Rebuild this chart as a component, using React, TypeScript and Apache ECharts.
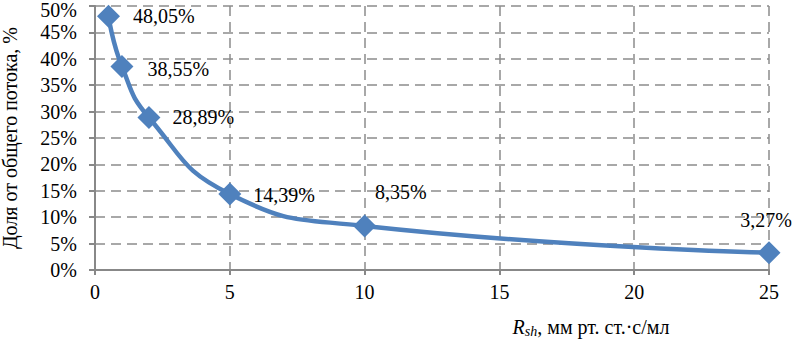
import React, { useEffect, useRef } from "react";
import * as echarts from "echarts";

const xValues = [0.5, 1, 2, 5, 10, 25];
const yValues = [48.05, 38.55, 28.89, 14.39, 8.35, 3.27];
const labelTexts = ["48,05%", "38,55%", "28,89%", "14,39%", "8,35%", "3,27%"];
const labelPositions = ["right", "right", "right", "right", "right", "top"];
const labelOffsets = [[8, 0], [9, 3], [7, 0], [7, 1], [-6, -34], [-3, -6]];

const FONT = "Liberation Serif";
const Y_MAX = 50;

export default function App() {
  const ref = useRef<HTMLDivElement>(null);
  useEffect(() => {
    if (!ref.current) return;
    const chart = echarts.init(ref.current, null, { renderer: "svg" });
    const data = xValues.map((x, i) => ({
      value: [x, yValues[i]],
      label: {
        show: true,
        position: labelPositions[i],
        distance: 5,
        offset: labelOffsets[i],
        formatter: labelTexts[i],
        color: "#000",
        fontFamily: FONT,
        fontSize: 20,
      },
    }));
    chart.setOption({
      animation: false,
      backgroundColor: "#fff",
      textStyle: { fontFamily: FONT },
      grid: { left: 95, right: 27, top: 6, bottom: 72, containLabel: false, outerBoundsMode: "none" },
      xAxis: {
        type: "value",
        min: 0,
        max: 25,
        interval: 5,
        name: "{i|R}{s|sh}{n|, мм рт. ст.·с/мл}",
        nameLocation: "middle",
        nameGap: 46,
        nameTextStyle: {
          fontFamily: FONT,
          fontSize: 20,
          padding: [0, 0, 0, 318],
          rich: {
            i: { fontFamily: FONT, fontSize: 20, fontStyle: "italic", color: "#000" },
            s: { fontFamily: FONT, fontSize: 14, fontStyle: "italic", color: "#000", verticalAlign: "bottom", padding: [8, 0, 0, 0] },
            n: { fontFamily: FONT, fontSize: 20, color: "#000" },
          },
        },
        axisLine: { show: true, lineStyle: { color: "#888", width: 2 } },
        axisTick: { show: true, length: 5, lineStyle: { color: "#888", width: 2 } },
        axisLabel: { color: "#000", fontFamily: FONT, fontSize: 20, margin: 12 },
        splitLine: { show: true, lineStyle: { color: "#8c8c8c", width: 1.5, type: [10, 6] } },
      },
      yAxis: {
        type: "value",
        min: 0,
        max: Y_MAX,
        interval: 5,
        name: "Доля от общего потока, %",
        nameLocation: "middle",
        nameGap: 75,
        nameTextStyle: { color: "#000", fontFamily: FONT, fontSize: 20 },
        axisLine: { show: true, lineStyle: { color: "#888", width: 2 } },
        axisTick: { show: true, length: 6, lineStyle: { color: "#888", width: 2 } },
        axisLabel: {
          color: "#000",
          fontFamily: FONT,
          fontSize: 20,
          margin: 18,
          formatter: (v: number) => (v === Y_MAX ? `{t|${v}%}` : `${v}%`),
          rich: { t: { fontFamily: FONT, fontSize: 20, color: "#000", padding: [7, 0, 0, 0] } },
        },
        splitLine: { show: true, lineStyle: { color: "#8c8c8c", width: 1.5, type: [10, 6] } },
      },
      series: [
        {
          type: "line",
          data,
          smooth: 0.5,
          symbol: "diamond",
          symbolSize: 23,
          itemStyle: { color: "#4F81BD" },
          lineStyle: { color: "#4F81BD", width: 4.5 },
          clip: false,
        },
      ],
    });
    return () => chart.dispose();
  }, []);
  return <div ref={ref} style={{ position: "fixed", left: 0, top: 0, width: 796, height: 342 }} />;
}
